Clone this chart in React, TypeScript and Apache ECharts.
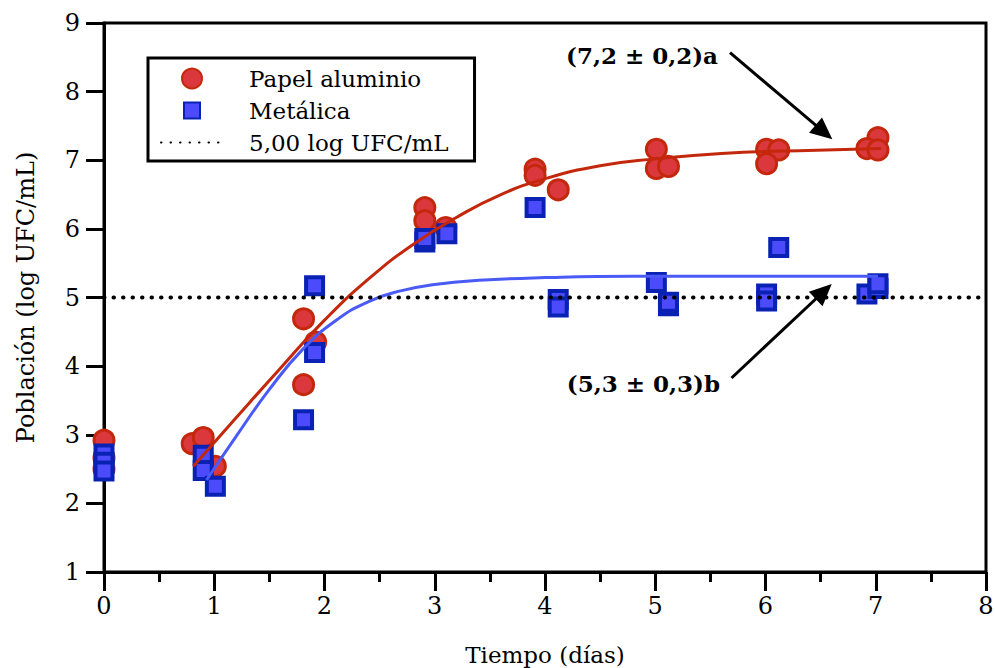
import React, { useEffect, useRef } from "react";
import * as echarts from "echarts";

const xTicks = [0, 1, 2, 3, 4, 5, 6, 7, 8];

const papelPoints: [number, number][] = [
  [0, 2.92], [0, 2.66], [0, 2.5],
  [0.8, 2.87], [0.9, 2.96], [1.01, 2.54],
  [1.81, 4.69], [1.92, 4.35], [1.81, 3.73],
  [2.91, 6.31], [2.91, 6.12], [3.1, 6.02],
  [3.91, 6.87], [3.91, 6.78], [4.12, 6.57],
  [5.01, 7.16], [5.01, 6.88], [5.12, 6.91],
  [6.01, 7.16], [6.12, 7.15], [6.01, 6.95],
  [7.02, 7.33], [6.92, 7.17], [7.02, 7.15],
];

const metalicaPoints: [number, number][] = [
  [0, 2.72], [0, 2.6], [0, 2.47],
  [0.9, 2.7], [0.9, 2.48], [1.01, 2.25],
  [1.91, 5.17], [1.91, 4.2], [1.81, 3.22],
  [2.91, 5.81], [2.91, 5.86], [3.11, 5.93],
  [3.91, 6.31], [4.12, 4.97], [4.12, 4.86],
  [5.01, 5.22], [5.12, 4.88], [5.12, 4.93],
  [6.12, 5.73], [6.01, 5.05], [6.01, 4.95],
  [6.92, 5.05], [7.02, 5.13], [7.02, 5.2],
];

const papelFit: [number, number][] = [
  [0.81, 2.54], [1.2, 3.25], [1.6, 3.97], [2.0, 4.67], [2.4, 5.27],
  [2.8, 5.77], [3.2, 6.17], [3.6, 6.5], [4.0, 6.73], [4.5, 6.92],
  [5.0, 7.02], [5.6, 7.1], [6.3, 7.14], [7.05, 7.17],
];

const metalicaFit: [number, number][] = [
  [0.93, 2.34], [1.2, 2.98], [1.5, 3.66], [1.8, 4.24], [2.1, 4.66],
  [2.4, 4.94], [2.7, 5.1], [3.0, 5.19], [3.4, 5.25], [4.0, 5.29],
  [4.8, 5.31], [6.0, 5.31], [7.02, 5.31],
];

const refLine: [number, number][] = [[0, 5], [8, 5]];

const arrowA: [number, number][] = [[5.678, 8.567], [6.53, 7.409]];
const arrowB: [number, number][] = [[5.692, 3.827], [6.528, 5.087]];

const labelA = "(7,2 ± 0,2)a";
const labelB = "(5,3 ± 0,3)b";

const seriesNames = ["Papel aluminio", "Metálica", "5,00 log UFC/mL"];

const FONT = "DejaVu Serif";
const RED_FILL = "#da383c";
const RED_EDGE = "#c4280c";
const BLUE_FILL = "#4b4bfc";
const BLUE_EDGE = "#0a22b4";

export default function App() {
  const ref = useRef<HTMLDivElement>(null);
  useEffect(() => {
    if (!ref.current) return;
    const chart = echarts.init(ref.current, undefined, { renderer: "svg" });
    chart.setOption({
      animation: false,
      backgroundColor: "#fff",
      textStyle: { fontFamily: FONT, color: "#000" },
      grid: {
        left: 104, right: 9, top: 23, bottom: 96,
        outerBoundsMode: "none",
        containLabel: false,
        show: true, borderColor: "#000", borderWidth: 3,
      },
      legend: {
        left: 148, top: 58,
        orient: "vertical",
        data: [
          { name: seriesNames[0] },
          { name: seriesNames[1], icon: "path://M2,2H18V18H2Z M0,0L0,0 M20,20L20,20" },
          { name: seriesNames[2] },
        ],
        symbolKeepAspect: true,
        itemWidth: 62, itemHeight: 20, itemGap: 9,
        padding: [9, 26, 7, 12],
        borderColor: "#000", borderWidth: 3,
        textStyle: { fontFamily: FONT, fontSize: 23, color: "#000", padding: [0, 0, 0, 21] },
      },
      xAxis: {
        type: "value", min: xTicks[0], max: xTicks[xTicks.length - 1], interval: 1,
        name: "Tiempo (días)", nameLocation: "middle", nameGap: 71,
        nameTextStyle: { fontFamily: FONT, fontSize: 23, color: "#000" },
        axisLine: { lineStyle: { color: "#000", width: 3 } },
        axisTick: { length: 19, lineStyle: { color: "#000", width: 3 } },
        minorTick: { show: true, splitNumber: 2, length: 10, lineStyle: { color: "#000", width: 3 } },
        axisLabel: { fontFamily: FONT, fontSize: 24, color: "#000", margin: 22 },
        splitLine: { show: false },
      },
      yAxis: {
        type: "value", min: 1, max: 9, interval: 1,
        name: "Población (log UFC/mL)", nameLocation: "middle", nameGap: 66,
        nameTextStyle: { fontFamily: FONT, fontSize: 24, color: "#000" },
        axisLine: { lineStyle: { color: "#000", width: 3 } },
        axisTick: { length: 18, lineStyle: { color: "#000", width: 3 } },
        axisLabel: { fontFamily: FONT, fontSize: 24, color: "#000", margin: 24 },
        splitLine: { show: false },
      },
      series: [
        {
          name: seriesNames[0], type: "scatter", data: papelPoints,
          symbol: "circle", symbolSize: 20,
          itemStyle: { color: RED_FILL, borderColor: RED_EDGE, borderWidth: 3, opacity: 1 },
        },
        {
          name: seriesNames[1], type: "scatter", data: metalicaPoints,
          symbol: "rect", symbolSize: 17,
          itemStyle: { color: BLUE_FILL, borderColor: BLUE_EDGE, borderWidth: 4, opacity: 1 },
        },
        {
          name: "fitPapel", type: "line", data: papelFit, smooth: 0.5,
          symbol: "none", lineStyle: { color: RED_EDGE, width: 3 }, silent: true,
        },
        {
          name: "fitMetalica", type: "line", data: metalicaFit, smooth: 0.5,
          symbol: "none", lineStyle: { color: "#4a5af6", width: 3 }, silent: true,
        },
        {
          name: seriesNames[2], type: "line", data: refLine,
          symbol: "none",
          itemStyle: { color: "transparent", borderColor: "transparent" },
          lineStyle: { color: "#000", width: 4, type: [0.5, 9], cap: "round" },
          silent: true,
          markLine: {
            silent: true,
            symbol: ["none", "triangle"],
            symbolSize: [20, 22],
            label: { show: false },
            lineStyle: { color: "#000", width: 3, type: "solid" },
            itemStyle: { color: "#000" },
            data: [
              [{ coord: arrowA[0] }, { coord: arrowA[1] }],
              [{ coord: arrowB[0] }, { coord: arrowB[1] }],
            ],
          },
        },
      ],
      graphic: [
        {
          type: "text", x: 718, y: 55,
          style: { text: labelA, fontFamily: FONT, fontWeight: "bold", fontSize: 23, fill: "#000", align: "right", verticalAlign: "middle" },
        },
        {
          type: "text", x: 720, y: 383,
          style: { text: labelB, fontFamily: FONT, fontWeight: "bold", fontSize: 23, fill: "#000", align: "right", verticalAlign: "middle" },
        },
      ],
    });
    return () => chart.dispose();
  }, []);
  return (
    <div
      ref={ref}
      style={{ position: "fixed", left: 0, top: 0, width: 995, height: 668 }}
    />
  );
}
